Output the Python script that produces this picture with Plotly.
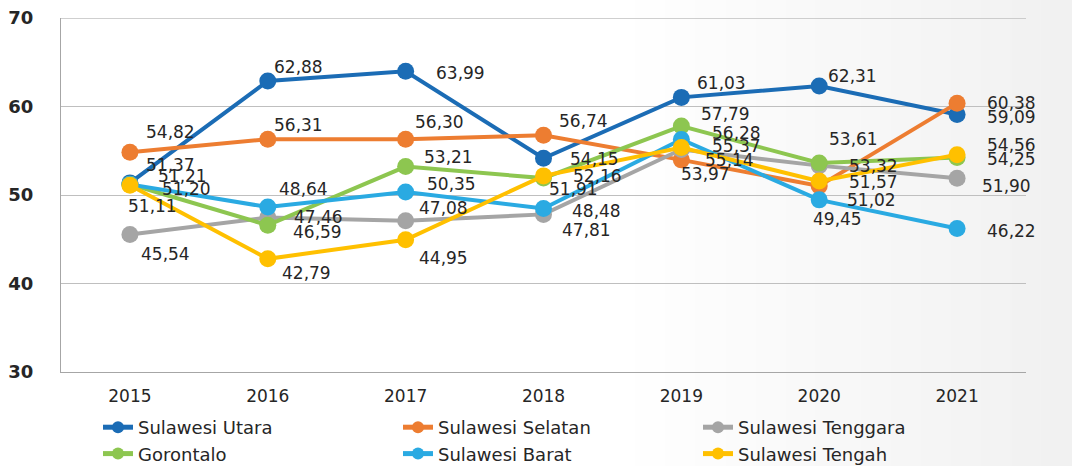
import plotly.graph_objects as go

years = ["2015", "2016", "2017", "2018", "2019", "2020", "2021"]
series_names = ["Sulawesi Utara", "Sulawesi Selatan", "Sulawesi Tenggara",
                "Gorontalo", "Sulawesi Barat", "Sulawesi Tengah"]
sulawesi_utara = [51.37, 62.88, 63.99, 54.15, 61.03, 62.31, 59.09]
sulawesi_selatan = [54.82, 56.31, 56.30, 56.74, 53.97, 51.02, 60.38]
sulawesi_tenggara = [45.54, 47.46, 47.08, 47.81, 55.14, 53.32, 51.90]
gorontalo = [51.21, 46.59, 53.21, 51.91, 57.79, 53.61, 54.25]
sulawesi_barat = [51.20, 48.64, 50.35, 48.48, 56.28, 49.45, 46.22]
sulawesi_tengah = [51.11, 42.79, 44.95, 52.16, 55.37, 51.57, 54.56]
y_ticks = [30, 40, 50, 60, 70]

series_values = [sulawesi_utara, sulawesi_selatan, sulawesi_tenggara,
                 gorontalo, sulawesi_barat, sulawesi_tengah]

# styling
colors = ["#1B6CB5", "#ED7D31", "#A5A5A5", "#8DC650", "#2AAAE2", "#FFC000"]
# label pixel offsets (dx, dy down-positive) per series, per point
label_offsets = [
    [(41, -18), (31, -14), (55, 2), (51, 1), (40, -14), (33, -10), (54, 2)],
    [(41, -20), (31, -14), (34, -17), (40, -14), (24, 14), (52, 14), (54, 0)],
    [(36, 20), (51, 0), (38, -13), (43, 16), (48, 10), (54, 0), (49, 8)],
    [(53, -8), (50, 7), (43, -10), (30, 11), (44, -12), (34, -24), (54, 2)],
    [(57, 5), (36, -18), (46, -8), (53, 3), (55, -6), (18, 19), (54, 3)],
    [(23, 21), (39, 14), (38, 18), (54, 0), (55, -1), (54, 1), (54, -10)],
]

L, R, T, B = 61, 46, 18, 94
PW = 1072 - L - R
PH = 466 - T - B

fig = go.Figure()

# subtle background gradient on the right side
n_steps = 30
for k in range(n_steps):
    px0 = 620 + k * (452 / n_steps)
    px1 = px0 + 452 / n_steps + 1
    g = int(round(255 - (k + 1) * 14 / n_steps))
    fig.add_shape(type="rect", xref="paper", yref="paper",
                  x0=(px0 - L) / PW, x1=(px1 - L) / PW,
                  y0=-B / PH - 0.01, y1=1 + T / PH + 0.01, line_width=0,
                  fillcolor=f"rgb({g},{g},{g})", layer="below")

for name, vals, col in zip(series_names, series_values, colors):
    fig.add_trace(go.Scatter(
        x=years, y=vals, name=name, mode="lines+markers",
        line=dict(color=col, width=4),
        marker=dict(color=col, size=17),
    ))

for vals, offs in zip(series_values, label_offsets):
    for i, (v, (dx, dy)) in enumerate(zip(vals, offs)):
        fig.add_annotation(
            x=i, y=v, xref="x", yref="y", text=f"{v:.2f}".replace(".", ","),
            showarrow=False, xshift=dx, yshift=-dy,
            font=dict(family="DejaVu Sans", size=17, color="#262626"),
        )

# top border line
fig.add_shape(type="line", xref="paper", yref="y", x0=0, x1=1, y0=70, y1=70,
              line=dict(color="#BFBFBF", width=1.3))

fig.update_layout(
    width=1072, height=466,
    margin=dict(l=L, r=R, t=T, b=B, autoexpand=False),
    paper_bgcolor="white",
    plot_bgcolor="rgba(0,0,0,0)",
    showlegend=True,
    legend=dict(
        orientation="h", x=(98 - L) / PW, xanchor="left", y=-(409 - 466 + B) / PH,
        yanchor="top",
        entrywidth=255, entrywidthmode="pixels",
        font=dict(family="DejaVu Sans", size=18, color="#262626"),
        itemsizing="constant", tracegroupgap=0,
        bgcolor="rgba(0,0,0,0)",
    ),
    xaxis=dict(
        type="category", range=[-0.5, 6.5], showgrid=False, automargin=False,
        showline=True, linecolor="#A6A6A6", linewidth=1.3,
        ticks="", ticklabelstandoff=8,
        tickfont=dict(family="DejaVu Sans", size=17, color="#262626"),
    ),
    yaxis=dict(
        range=[30, 70], tickvals=y_ticks, showgrid=True, automargin=False,
        gridcolor="#BFBFBF", gridwidth=1.3,
        showline=True, linecolor="#A6A6A6", linewidth=1.3,
        ticks="", ticklabelstandoff=23, zeroline=False,
        tickfont=dict(family="DejaVu Sans", size=18, color="#262626", weight="bold"),
    ),
)

fig.write_html(
    "out.html",
    config={"displayModeBar": False},
    post_script="document.body.style.margin='0';document.body.style.overflow='hidden';",
)
